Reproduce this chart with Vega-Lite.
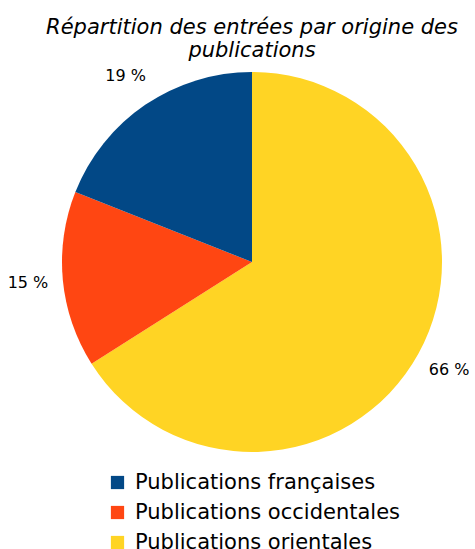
{
  "$schema": "https://vega.github.io/schema/vega-lite/v6.json",
  "width": 400,
  "height": 400,
  "autosize": {"type": "none"},
  "padding": {"left": 52, "top": 62, "right": 23, "bottom": 87},
  "background": "white",
  "title": {
    "text": ["Répartition des entrées par origine des", "publications"],
    "font": "DejaVu Sans",
    "fontStyle": "italic",
    "fontWeight": "normal",
    "fontSize": 21,
    "color": "#000000",
    "anchor": "middle",
    "offset": 1,
    "lineHeight": 23
  },
  "data": {
    "values": [
      {"origine": "Publications orientales", "valeur": 66, "label": "66 %", "ord": 1},
      {"origine": "Publications occidentales", "valeur": 15, "label": "15 %", "ord": 2},
      {"origine": "Publications françaises", "valeur": 19, "label": "19 %", "ord": 3}
    ]
  },
  "encoding": {
    "theta": {"field": "valeur", "type": "quantitative", "stack": true},
    "order": {"field": "ord", "type": "quantitative"}
  },
  "layer": [
    {
      "mark": {"type": "arc", "outerRadius": 190},
      "encoding": {
        "color": {
          "field": "origine",
          "type": "nominal",
          "scale": {
            "domain": ["Publications françaises", "Publications occidentales", "Publications orientales"],
            "range": ["#024886", "#FF4612", "#FFD424"]
          },
          "legend": {
            "title": null,
            "orient": "none",
            "legendX": 55,
            "legendY": 410,
            "direction": "vertical",
            "symbolType": "square",
            "symbolSize": 175,
            "symbolStrokeWidth": 0,
            "labelFont": "DejaVu Sans",
            "labelFontSize": 21,
            "labelColor": "#000000",
            "labelLimit": 400,
            "rowPadding": 8,
            "labelOffset": 7
          }
        }
      }
    },
    {
      "mark": {"type": "text", "radius": 225, "font": "DejaVu Sans", "fontSize": 16, "color": "#000000"},
      "encoding": {
        "text": {"field": "label", "type": "nominal"}
      }
    }
  ]
}
